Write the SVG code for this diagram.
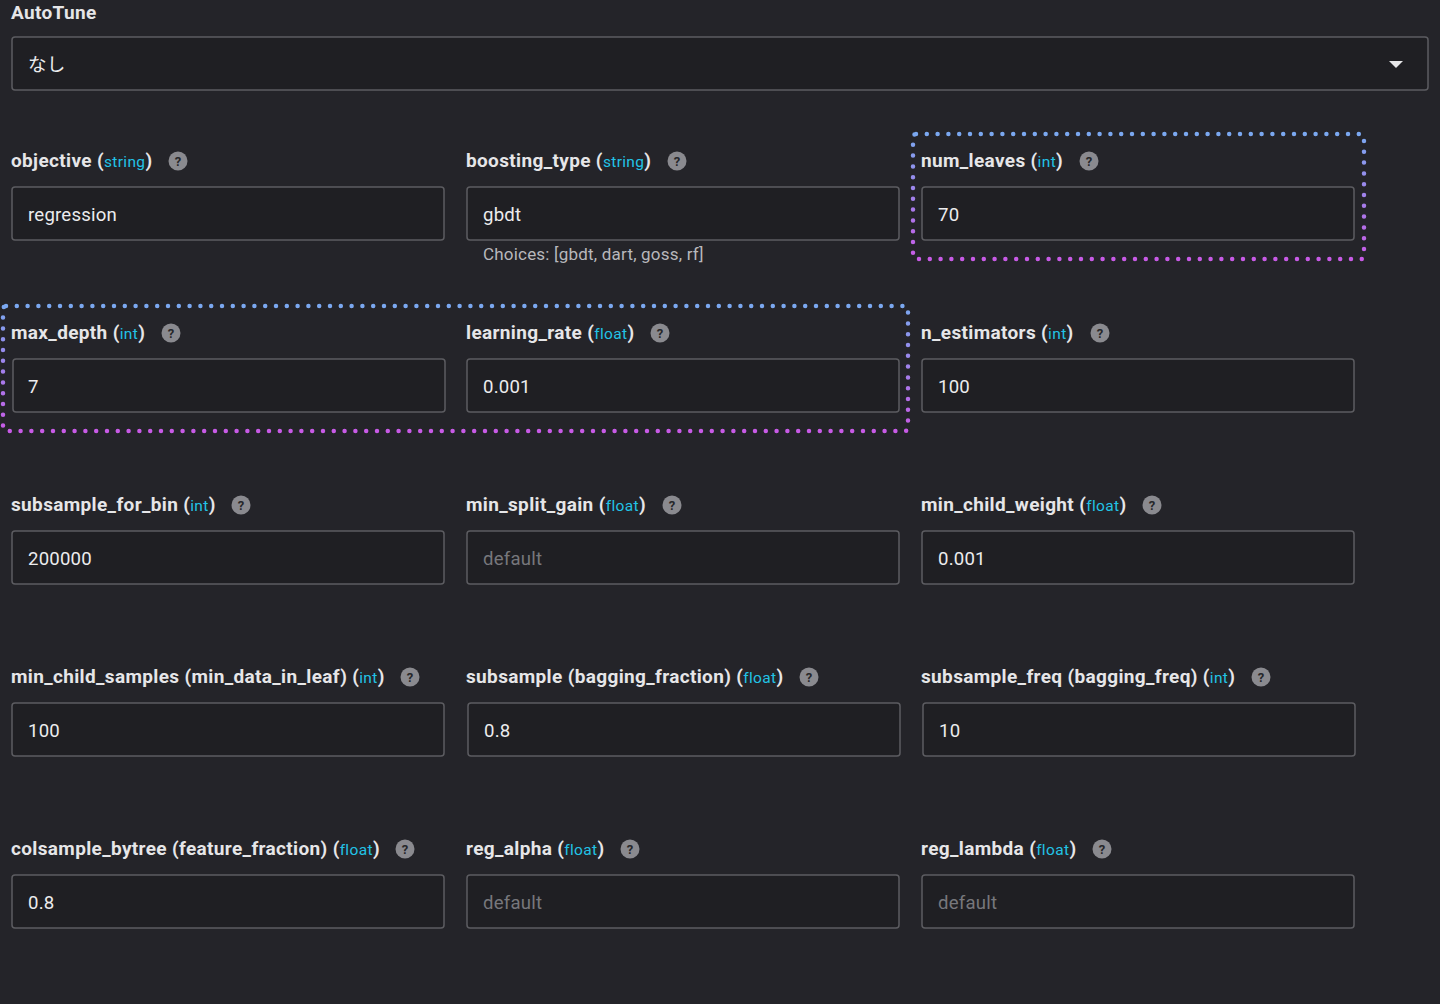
<svg xmlns="http://www.w3.org/2000/svg" width="1440" height="1004" viewBox="0 0 1440 1004">
<defs>
<linearGradient id="g" x1="0" y1="0" x2="0" y2="1"><stop offset="0" stop-color="#7aa8f0"/><stop offset="1" stop-color="#c85ae6"/></linearGradient>
<style>
text{font-family:Roboto,"Noto Sans CJK JP",sans-serif}
.l{font-size:19px;font-weight:bold;fill:#e6e6e8;letter-spacing:0.35px}
.t{font-size:15.5px;font-weight:normal;fill:#22c3e6}
.b{fill:#1f1f23;stroke:#5c5c61;stroke-width:1.5}
.v{font-size:18.6px;fill:#ececee;letter-spacing:0.2px}
.p{font-size:18.6px;fill:#77777c;letter-spacing:0.2px}
.q{fill:#8a8a8f}
.qm{font-size:13px;font-weight:bold;fill:#26262a;text-anchor:middle}
.d{fill:none;stroke-width:4.5;stroke-linecap:round;stroke-dasharray:0 10.8}
</style>
</defs>
<rect width="1440" height="1004" fill="#242429"/>
<g id="autotune">
<text x="11" y="19" class="l">AutoTune</text>
<rect x="12" y="37" width="1416" height="53" rx="3" class="b"/>
<text x="28" y="71" class="v">なし</text>
<path d="M1389 61h14l-7 7z" fill="#e6e6e8"/>
</g>
<g id="objective"><text x="11" y="167" class="l">objective (<tspan class="t">string</tspan>)</text><circle cx="178" cy="161" r="9.5" class="q"/><text x="178" y="166" class="qm">?</text><rect x="12" y="187" width="432" height="53" rx="3" class="b"/><text x="28" y="221" class="v">regression</text></g>
<g id="boosting_type"><text x="466" y="167" class="l">boosting_type (<tspan class="t">string</tspan>)</text><circle cx="677" cy="161" r="9.5" class="q"/><text x="677" y="166" class="qm">?</text><rect x="467" y="187" width="432" height="53" rx="3" class="b"/><text x="483" y="221" class="v">gbdt</text><text x="483" y="260" font-size="17" fill="#b8b8bc" letter-spacing="0.2">Choices: [gbdt, dart, goss, rf]</text></g>
<g id="num_leaves"><text x="921" y="167" class="l">num_leaves (<tspan class="t">int</tspan>)</text><circle cx="1089" cy="161" r="9.5" class="q"/><text x="1089" y="166" class="qm">?</text><rect x="922" y="187" width="432" height="53" rx="3" class="b"/><text x="938" y="221" class="v">70</text></g>
<g id="max_depth"><text x="11" y="339" class="l">max_depth (<tspan class="t">int</tspan>)</text><circle cx="171" cy="333" r="9.5" class="q"/><text x="171" y="338" class="qm">?</text><rect x="13" y="359" width="432" height="53" rx="3" class="b"/><text x="28" y="393" class="v">7</text></g>
<g id="learning_rate"><text x="466" y="339" class="l">learning_rate (<tspan class="t">float</tspan>)</text><circle cx="660" cy="333" r="9.5" class="q"/><text x="660" y="338" class="qm">?</text><rect x="467" y="359" width="432" height="53" rx="3" class="b"/><text x="483" y="393" class="v">0.001</text></g>
<g id="n_estimators"><text x="921" y="339" class="l">n_estimators (<tspan class="t">int</tspan>)</text><circle cx="1100" cy="333" r="9.5" class="q"/><text x="1100" y="338" class="qm">?</text><rect x="922" y="359" width="432" height="53" rx="3" class="b"/><text x="938" y="393" class="v">100</text></g>
<g id="subsample_for_bin"><text x="11" y="511" class="l">subsample_for_bin (<tspan class="t">int</tspan>)</text><circle cx="241" cy="505" r="9.5" class="q"/><text x="241" y="510" class="qm">?</text><rect x="12" y="531" width="432" height="53" rx="3" class="b"/><text x="28" y="565" class="v">200000</text></g>
<g id="min_split_gain"><text x="466" y="511" class="l">min_split_gain (<tspan class="t">float</tspan>)</text><circle cx="672" cy="505" r="9.5" class="q"/><text x="672" y="510" class="qm">?</text><rect x="467" y="531" width="432" height="53" rx="3" class="b"/><text x="483" y="565" class="p">default</text></g>
<g id="min_child_weight"><text x="921" y="511" class="l">min_child_weight (<tspan class="t">float</tspan>)</text><circle cx="1152" cy="505" r="9.5" class="q"/><text x="1152" y="510" class="qm">?</text><rect x="922" y="531" width="432" height="53" rx="3" class="b"/><text x="938" y="565" class="v">0.001</text></g>
<g id="min_child_samples"><text x="11" y="683" class="l">min_child_samples (min_data_in_leaf) (<tspan class="t">int</tspan>)</text><circle cx="410" cy="677" r="9.5" class="q"/><text x="410" y="682" class="qm">?</text><rect x="12" y="703" width="432" height="53" rx="3" class="b"/><text x="28" y="737" class="v">100</text></g>
<g id="subsample"><text x="466" y="683" class="l">subsample (bagging_fraction) (<tspan class="t">float</tspan>)</text><circle cx="809" cy="677" r="9.5" class="q"/><text x="809" y="682" class="qm">?</text><rect x="468" y="703" width="432" height="53" rx="3" class="b"/><text x="484" y="737" class="v">0.8</text></g>
<g id="subsample_freq"><text x="921" y="683" class="l">subsample_freq (bagging_freq) (<tspan class="t">int</tspan>)</text><circle cx="1261" cy="677" r="9.5" class="q"/><text x="1261" y="682" class="qm">?</text><rect x="923" y="703" width="432" height="53" rx="3" class="b"/><text x="939" y="737" class="v">10</text></g>
<g id="colsample_bytree"><text x="11" y="855" class="l">colsample_bytree (feature_fraction) (<tspan class="t">float</tspan>)</text><circle cx="405" cy="849" r="9.5" class="q"/><text x="405" y="854" class="qm">?</text><rect x="12" y="875" width="432" height="53" rx="3" class="b"/><text x="28" y="909" class="v">0.8</text></g>
<g id="reg_alpha"><text x="466" y="855" class="l">reg_alpha (<tspan class="t">float</tspan>)</text><circle cx="630" cy="849" r="9.5" class="q"/><text x="630" y="854" class="qm">?</text><rect x="467" y="875" width="432" height="53" rx="3" class="b"/><text x="483" y="909" class="p">default</text></g>
<g id="reg_lambda"><text x="921" y="855" class="l">reg_lambda (<tspan class="t">float</tspan>)</text><circle cx="1102" cy="849" r="9.5" class="q"/><text x="1102" y="854" class="qm">?</text><rect x="922" y="875" width="432" height="53" rx="3" class="b"/><text x="938" y="909" class="p">default</text></g>
<g id="highlights">
<rect x="913" y="134" width="451" height="125" rx="3" class="d" stroke="url(#g)"/>
<rect x="3" y="306" width="905" height="125" rx="3" class="d" stroke="url(#g)"/>
</g>
</svg>
